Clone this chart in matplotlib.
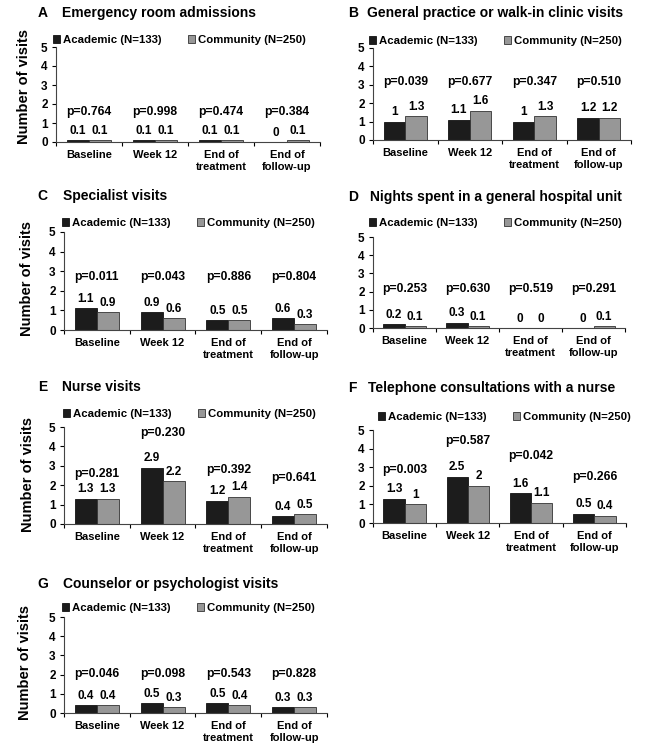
import numpy as np
import matplotlib
matplotlib.use("Agg")
import matplotlib.pyplot as plt
from matplotlib.patches import Patch

plt.rcParams['font.family'] = ['Liberation Sans', 'DejaVu Sans']
plt.rcParams['font.weight'] = 'bold'

# =========================
# DATA
# =========================
categories = ["Baseline", "Week 12", "End of\ntreatment", "End of\nfollow-up"]
series_names = ["Academic (N=133)", "Community (N=250)"]

titles = {
    "A": "Emergency room admissions",
    "B": "General practice or walk-in clinic visits",
    "C": "Specialist visits",
    "D": "Nights spent in a general hospital unit",
    "E": "Nurse visits",
    "F": "Telephone consultations with a nurse",
    "G": "Counselor or psychologist visits",
}

academic_A = [0.1, 0.1, 0.1, 0]
community_A = [0.1, 0.1, 0.1, 0.1]
p_A = ["0.764", "0.998", "0.474", "0.384"]

academic_B = [1, 1.1, 1, 1.2]
community_B = [1.3, 1.6, 1.3, 1.2]
p_B = ["0.039", "0.677", "0.347", "0.510"]

academic_C = [1.1, 0.9, 0.5, 0.6]
community_C = [0.9, 0.6, 0.5, 0.3]
p_C = ["0.011", "0.043", "0.886", "0.804"]

academic_D = [0.2, 0.3, 0, 0]
community_D = [0.1, 0.1, 0, 0.1]
p_D = ["0.253", "0.630", "0.519", "0.291"]

academic_E = [1.3, 2.9, 1.2, 0.4]
community_E = [1.3, 2.2, 1.4, 0.5]
p_E = ["0.281", "0.230", "0.392", "0.641"]

academic_F = [1.3, 2.5, 1.6, 0.5]
community_F = [1, 2, 1.1, 0.4]
p_F = ["0.003", "0.587", "0.042", "0.266"]

academic_G = [0.4, 0.5, 0.5, 0.3]
community_G = [0.4, 0.3, 0.4, 0.3]
p_G = ["0.046", "0.098", "0.543", "0.828"]

data = {
    "A": (academic_A, community_A, p_A),
    "B": (academic_B, community_B, p_B),
    "C": (academic_C, community_C, p_C),
    "D": (academic_D, community_D, p_D),
    "E": (academic_E, community_E, p_E),
    "F": (academic_F, community_F, p_F),
    "G": (academic_G, community_G, p_G),
}

# =========================
# LAYOUT (pixels, y from top)
# =========================
W, H = 647, 753
# axes: left, right, top, bottom
rects = {
    "A": (56, 320, 47, 142),
    "B": (373, 631, 48, 140),
    "C": (64, 327, 232, 330),
    "D": (373, 625, 237, 328),
    "E": (64, 327, 427, 524),
    "F": (373, 626, 430, 523),
    "G": (64, 327, 617, 713),
}
# title: letter x, text x, y
title_pos = {
    "A": (38, 62, 13), "B": (348, 367, 13),
    "C": (37, 63, 196), "D": (348, 370, 197),
    "E": (38, 62, 387), "F": (348, 368, 388),
    "G": (37, 63, 584),
}
# legend: left x, y
legend_pos = {
    "A": (53, 40), "B": (369, 41),
    "C": (62, 223), "D": (369, 223),
    "E": (63, 414), "F": (378, 417),
    "G": (62, 608),
}
# y-label centre (only left column)
ylabel_pos = {"A": (24, 86), "C": (27, 278), "E": (28, 474), "G": (25, 663)}
# height of the p-value text (data units)
p_height = {
    "A": [1.6] * 4,
    "B": [3.15] * 4,
    "C": [2.72] * 4,
    "D": [2.14] * 4,
    "E": [2.58, 4.7, 2.8, 2.37],
    "F": [2.85, 4.4, 3.6, 2.5],
    "G": [2.03] * 4,
}

BLACK = "#1c1c1c"
GRAY = "#979797"
bw = 0.335

fig = plt.figure(figsize=(W / 100, H / 100), dpi=100)

for key, (acad, comm, pv) in data.items():
    l, r, t, b = rects[key]
    ax = fig.add_axes([l / W, 1 - b / H, (r - l) / W, (b - t) / H])
    x = np.arange(len(categories))

    b1 = ax.bar(x - bw / 2, acad, bw, color=BLACK, edgecolor="#111111", linewidth=0.6)
    b2 = ax.bar(x + bw / 2, comm, bw, color=GRAY, edgecolor="#333333", linewidth=0.6)

    # value labels
    for bars, vals in ((b1, acad), (b2, comm)):
        for rect, v in zip(bars, vals):
            ax.annotate(f"{v:g}", (rect.get_x() + rect.get_width() / 2, v),
                        xytext=(0, 2.5), textcoords="offset points",
                        ha="center", va="bottom", fontsize=8.5, fontweight="bold")

    # p-values
    for i, p in enumerate(pv):
        ax.text(x[i], p_height[key][i], f"p={p}", ha="center", va="center",
                fontsize=8.7, fontweight="bold")

    ax.set_xlim(-0.5, 3.5)
    ax.set_ylim(0, 5)
    ax.set_yticks(range(6))
    ax.set_xticks(x)
    ax.set_xticklabels(categories, fontsize=8, fontweight="bold", linespacing=1.15)
    ax.set_xticks(np.arange(-0.5, 4, 1), minor=True)
    ax.tick_params(axis="x", which="major", length=0, pad=6)
    ax.tick_params(axis="x", which="minor", length=3, width=0.8, direction="out")
    ax.tick_params(axis="y", length=3, width=0.8, pad=3, labelsize=8.5)
    for lab in ax.get_yticklabels():
        lab.set_fontweight("bold")
    for s in ("top", "right"):
        ax.spines[s].set_visible(False)
    for s in ("left", "bottom"):
        ax.spines[s].set_linewidth(0.8)
        ax.spines[s].set_color("#444444")

    if key in ylabel_pos:
        yx, yy = ylabel_pos[key]
        ax.set_ylabel("Number of visits", fontsize=10.5, fontweight="bold")
        # label anchor is its right edge once rotated, so shift by half its height
        ax.yaxis.set_label_coords((yx + 7 - l) / (r - l), (b - yy) / (b - t))

    lx, tx, ty = title_pos[key]
    fig.text(lx / W, 1 - ty / H, key, fontsize=10, fontweight="bold", va="center", ha="left")
    fig.text(tx / W, 1 - ty / H, titles[key], fontsize=10, fontweight="bold", va="center", ha="left")

    gx, gy = legend_pos[key]
    handles = [Patch(facecolor=BLACK, edgecolor="#111111", linewidth=0.6),
               Patch(facecolor=GRAY, edgecolor="#333333", linewidth=0.6)]
    fig.legend(handles, series_names, loc="center left",
               bbox_to_anchor=(gx / W, 1 - gy / H), ncol=2, frameon=False,
               prop={"weight": "bold", "size": 8.2},
               handlelength=0.65, handleheight=0.65, handletextpad=0.25,
               columnspacing=2.3, borderpad=0, borderaxespad=0)

fig.savefig("out.png", dpi=100)
